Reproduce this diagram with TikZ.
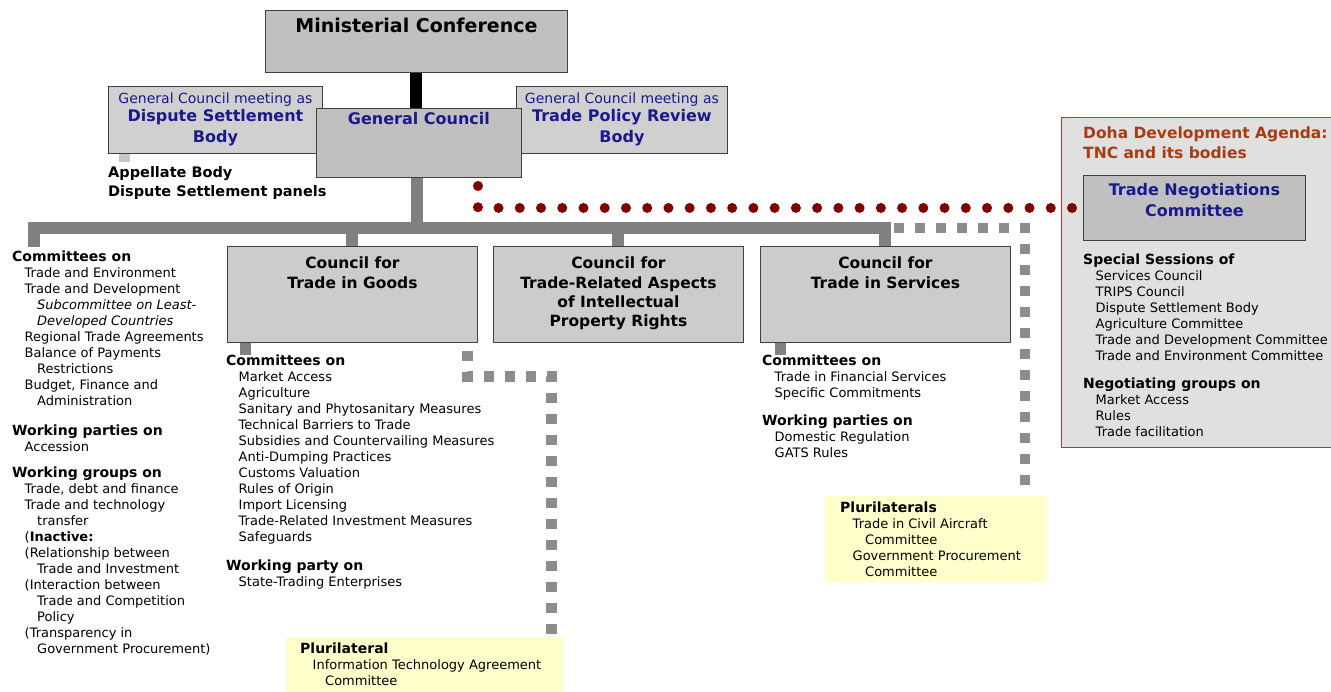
\documentclass[tikz,border=0pt]{standalone}
\usepackage{fontspec}
\setmainfont{DejaVu Sans}
\usetikzlibrary{positioning}

\definecolor{boxgray}{HTML}{C0C0C0}
\definecolor{sidegray}{HTML}{D0D0D0}
\definecolor{councilgray}{HTML}{CCCCCC}
\definecolor{linkgray}{HTML}{808080}
\definecolor{stubgray}{HTML}{C8C8C8}
\definecolor{sqgray}{HTML}{8C8C8C}
\definecolor{dotred}{HTML}{800000}
\definecolor{navyblue}{HTML}{1A1A8C}
\definecolor{doharust}{HTML}{A93B12}
\definecolor{dohaframe}{HTML}{B03A3A}
\definecolor{dohafill}{HTML}{E0E0E0}
\definecolor{plurifill}{HTML}{FFFFCC}

\newcommand{\hd}[1]{{\bfseries\fontsize{14}{16}\selectfont #1}}
\newcommand{\ia}{\hspace*{12.5pt}}
\newcommand{\ib}{\hspace*{25pt}}

\begin{document}
\begin{tikzpicture}[
    x=1pt, y=-1pt,
    box/.style={draw=black!75, line width=0.9pt, anchor=north west, inner sep=0},
    ttl/.style={anchor=north, align=center, inner sep=0, font=\bfseries\fontsize{15.5}{19.3}\selectfont},
    lst/.style={anchor=north west, align=left, inner sep=0, font=\fontsize{13}{16}\selectfont},
    bus/.style={draw=linkgray, line width=12pt},
    stub/.style={line width=11pt},
    dots/.style={draw=dotred, line width=10pt, line cap=round, dash pattern=on 0pt off 21.24pt},
    squares/.style={draw=sqgray, line width=10.5pt, dash pattern=on 10.5pt off 10.5pt}
]
    \useasboundingbox (0,0) rectangle (1331,691);

    % Top level
    \node[box, fill=boxgray, minimum width=302pt, minimum height=62pt] (mc) at (265,10) {};
    \node[ttl, font=\bfseries\fontsize{19}{22}\selectfont] at ([yshift=-8pt]mc.north) {Ministerial Conference};

    \node[box, fill=sidegray, minimum width=214pt, minimum height=67pt] (dsb) at (108,86) {};
    \node[ttl, text=navyblue, font=\fontsize{14}{16}\selectfont] at ([yshift=-7pt]dsb.north) {General Council meeting as};
    \node[ttl, text=navyblue, font=\bfseries\fontsize{16}{21}\selectfont] at ([yshift=-23pt]dsb.north) {Dispute Settlement\\Body};

    \node[box, fill=sidegray, minimum width=211pt, minimum height=67pt] (tprb) at (516,86) {};
    \node[ttl, text=navyblue, font=\fontsize{14}{16}\selectfont] at ([yshift=-7pt]tprb.north) {General Council meeting as};
    \node[ttl, text=navyblue, font=\bfseries\fontsize{16}{21}\selectfont] at ([yshift=-23pt]tprb.north) {Trade Policy Review\\Body};

    \node[box, fill=boxgray, minimum width=205pt, minimum height=69pt] (gc) at (316,108) {};
    \node[ttl, text=navyblue, font=\bfseries\fontsize{16}{21}\selectfont] at ([yshift=-4.5pt]gc.north) {General Council};

    \draw[line width=12pt] (mc.south) -- (mc.south |- gc.north);

    % Appellate
    \node[lst, font=\bfseries\fontsize{14.5}{19}\selectfont] (app) at (108,166) {Appellate Body\\Dispute Settlement panels};
    \draw[stub, draw=stubgray] ([xshift=16.5pt]dsb.south west) -- ([xshift=16.5pt, yshift=4pt]app.north west);

    % Councils
    \node[box, fill=councilgray, minimum width=250pt, minimum height=96pt] (gd) at (227,246) {};
    \node[ttl] at ([yshift=-11pt]gd.north) {Council for\\Trade in Goods};
    \node[box, fill=councilgray, minimum width=250pt, minimum height=96pt] (trips) at (493,246) {};
    \node[ttl] at ([yshift=-11pt]trips.north) {Council for\\Trade-Related Aspects\\of Intellectual\\Property Rights};
    \node[box, fill=councilgray, minimum width=250pt, minimum height=96pt] (sc) at (760,246) {};
    \node[ttl] at ([yshift=-11pt]sc.north) {Council for\\Trade in Services};

    % Bus
    \coordinate (bus) at (417,228);
    \coordinate (busL) at (34,247);
    \draw[bus] (gc.south -| bus) -- (bus);
    \draw[bus] (busL) |- (sc.north |- bus) -- (sc.north);
    \draw[bus] (gd.north |- bus) -- (gd.north);
    \draw[bus] (trips.north |- bus) -- (trips.north);

    % General Council bodies
    \node[lst] (gcL) at (12,250.5) {\hd{Committees on}\\
        \ia Trade and Environment\\
        \ia Trade and Development\\
        \ib\textit{Subcommittee on Least-}\\
        \ib\textit{Developed Countries}\\
        \ia Regional Trade Agreements\\
        \ia Balance of Payments\\
        \ib Restrictions\\
        \ia Budget, Finance and\\
        \ib Administration};
    \node[lst] (gcW) at (12,424.5) {\hd{Working parties on}\\
        \ia Accession};
    \node[lst] (gcG) at (12,466.5) {\hd{Working groups on}\\
        \ia Trade, debt and finance\\
        \ia Trade and technology\\
        \ib transfer\\
        \ia(\textbf{Inactive:}\\
        \ia(Relationship between\\
        \ib Trade and Investment\\
        \ia(Interaction between\\
        \ib Trade and Competition\\
        \ib Policy\\
        \ia(Transparency in\\
        \ib Government Procurement)};

    % Goods bodies
    \node[lst] (gdL) at (226,354.5) {\hd{Committees on}\\
        \ia Market Access\\
        \ia Agriculture\\
        \ia Sanitary and Phytosanitary Measures\\
        \ia Technical Barriers to Trade\\
        \ia Subsidies and Countervailing Measures\\
        \ia Anti-Dumping Practices\\
        \ia Customs Valuation\\
        \ia Rules of Origin\\
        \ia Import Licensing\\
        \ia Trade-Related Investment Measures\\
        \ia Safeguards};
    \node[lst] (gdW) at (226,559.5) {\hd{Working party on}\\
        \ia State-Trading Enterprises};
    \draw[stub, draw=linkgray] ([xshift=18.5pt]gd.south west) -- ([xshift=18.5pt]gd.south west |- gdL.north);

    % Services bodies
    \node[lst] (scL) at (762,354.5) {\hd{Committees on}\\
        \ia Trade in Financial Services\\
        \ia Specific Commitments};
    \node[lst] (scW) at (762,414.5) {\hd{Working parties on}\\
        \ia Domestic Regulation\\
        \ia GATS Rules};
    \draw[stub, draw=linkgray] ([xshift=20pt]sc.south west) -- ([xshift=20pt]sc.south west |- scL.north);

    % Plurilaterals
    \node[box, draw=none, fill=plurifill, minimum width=277pt, minimum height=56pt] (gpl) at (286,637) {};
    \node[lst] (gplT) at (300,642.5) {\hd{Plurilateral}\\
        \ia Information Technology Agreement\\
        \ib Committee};
    \node[box, draw=none, fill=plurifill, minimum width=222pt, minimum height=86pt] (spl) at (825,496) {};
    \node[lst] (splT) at (840,501.5) {\hd{Plurilaterals}\\
        \ia Trade in Civil Aircraft\\
        \ib Committee\\
        \ia Government Procurement\\
        \ib Committee};

    \coordinate (gdR) at (467.7,350.5);
    \coordinate (gdC) at (551.7,376.7);
    \draw[squares] (gdR) |- (gdC) -- ([yshift=2pt]gpl.north -| gdC);
    \coordinate (busR) at (893.75,228);
    \coordinate (svc) at (1025,228);
    \draw[squares] (busR) -- (svc) -- ([yshift=6pt]spl.north -| svc);

    % Doha Development Agenda
    \node[box, draw=dohaframe, line width=1.2pt, fill=dohafill, minimum width=290pt, minimum height=330pt] (doha) at (1061,117) {};
    \node[lst, text=doharust, font=\bfseries\fontsize{15.5}{20}\selectfont] (dohaT) at (1083,127) {Doha Development Agenda:\\TNC and its bodies};
    \node[box, fill=boxgray, minimum width=222pt, minimum height=65pt] (tnc) at (1083,175) {};
    \node[ttl, text=navyblue, font=\bfseries\fontsize{16}{21}\selectfont] at ([yshift=-8.5pt]tnc.north) {Trade Negotiations\\Committee};
    \node[lst] (tncS) at (1083,253.5) {\hd{Special Sessions of}\\
        \ia Services Council\\
        \ia TRIPS Council\\
        \ia Dispute Settlement Body\\
        \ia Agriculture Committee\\
        \ia Trade and Development Committee\\
        \ia Trade and Environment Committee};
    \node[lst] (tncN) at (1083,377.5) {\hd{Negotiating groups on}\\
        \ia Market Access\\
        \ia Rules\\
        \ia Trade facilitation};

    \coordinate (gcR) at (478,186);
    \draw[dots] (gcR) |- (tnc.west);
\end{tikzpicture}
\end{document}
